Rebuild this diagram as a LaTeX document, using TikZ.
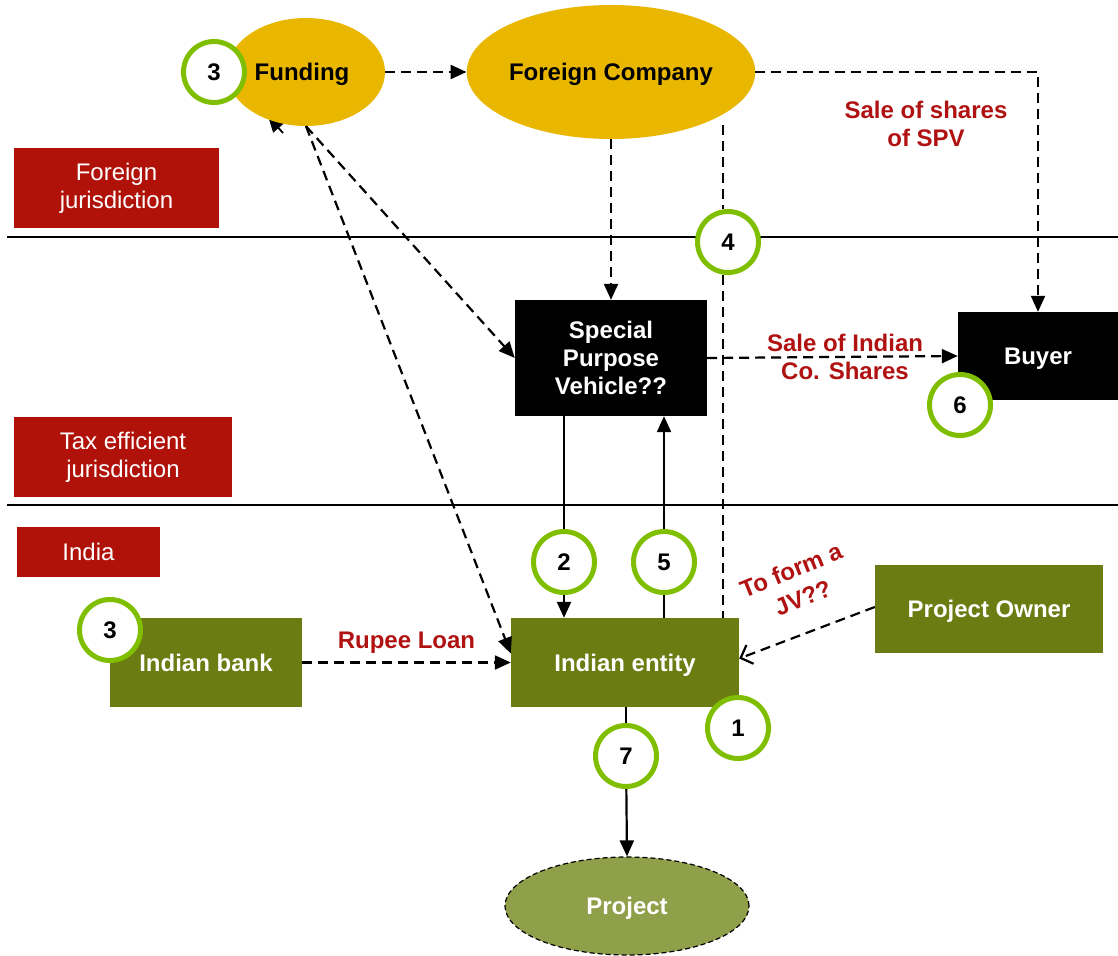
\documentclass[tikz,border=0pt]{standalone}
\usepackage{fontspec}
\setmainfont{Liberation Sans}
\usetikzlibrary{arrows.meta,shapes.geometric}
\definecolor{goldfill}{RGB}{234,183,0}
\definecolor{olivefill}{RGB}{107,124,18}
\definecolor{projfill}{RGB}{143,159,74}
\definecolor{ringgreen}{RGB}{127,190,0}
\definecolor{regred}{RGB}{176,18,10}
\definecolor{lblred}{RGB}{176,18,18}
\newcommand{\lblfont}{\fontsize{24}{28}\selectfont}

\begin{document}
\begin{tikzpicture}[x=1pt,y=-1pt,
  region/.style={rectangle,fill=regred,text=white,align=center,font=\lblfont,inner sep=0pt},
  goldell/.style={ellipse,fill=goldfill,font=\lblfont\bfseries,inner sep=0pt,text depth=0pt},
  blkbox/.style={rectangle,fill=black,text=white,align=center,font=\lblfont\bfseries,inner sep=0pt},
  olvbox/.style={rectangle,fill=olivefill,text=white,font=\lblfont\bfseries,inner sep=0pt,text depth=0pt},
  ring/.style={circle,draw=ringgreen,line width=5pt,fill=white,minimum size=61pt,inner sep=0pt,font=\lblfont\bfseries},
  lbl/.style={text=lblred,align=center,font=\lblfont\bfseries,inner sep=0pt},
  dashline/.style={line width=2.2pt,dash pattern=on 10pt off 6pt},
  dasharr/.style={dashline,-{Triangle[length=16pt,width=14pt]}},
  solarr/.style={line width=2.2pt,-{Triangle[length=16pt,width=14pt]}},
  openarr/.style={dashline,-{Straight Barb[length=10pt,width=20pt]}}]
\useasboundingbox (0,0) rectangle (1118,955);
\draw[line width=1.6pt] (7,237) -- (1118,237);
\draw[line width=1.6pt] (7,505) -- (1118,505);
\node[region,minimum width=205pt,minimum height=80pt] (foreign) at (116.5,188) {Foreign\\jurisdiction};
\node[region,minimum width=218pt,minimum height=80pt] (taxeff) at (123,457) {Tax efficient\\jurisdiction};
\node[region,minimum width=143pt,minimum height=50pt] (india) at (88.5,552) {India};
\coordinate (stray) at (283,133);
\draw[line width=1.8pt,-{Triangle[length=16pt,width=14pt]}] (stray) -- (268,116);
\node[goldell,minimum width=158pt,minimum height=108pt] (funding) at (306,72) {\hspace*{-8pt}Funding};
\node[goldell,minimum width=288pt,minimum height=134pt] (forco) at (611,72) {Foreign Company};
\node[blkbox,minimum width=192pt,minimum height=116pt] (spv) at (611,358) {Special\\Purpose\\Vehicle??};
\node[blkbox,text depth=0pt,minimum width=160pt,minimum height=88pt] (buyer) at (1038,356) {Buyer};
\node[olvbox,minimum width=192pt,minimum height=89pt] (bank) at (206,662.5) {Indian bank};
\node[olvbox,minimum width=228pt,minimum height=89pt] (entity) at (625,662.5) {Indian entity};
\node[olvbox,minimum width=228pt,minimum height=88pt] (owner) at (989,609) {Project Owner};
\node[ellipse,fill=projfill,draw=black,line width=1.2pt,dash pattern=on 5pt off 3pt,text=white,font=\lblfont\bfseries,text depth=0pt,minimum width=244pt,minimum height=98pt,inner sep=0pt] (project) at (627,906) {Project};
\node[lbl] (spvsale) at (926,124) {Sale of shares\\of SPV};
\node[lbl,rotate=22] (jvlbla) at (791,570) {To form a};
\node[lbl,rotate=22] (jvlblb) at (803,598) {JV??};
\node[ring] (threea) at (214,72) {3};
\node[ring] (threeb) at (110,630) {3};
\node[ring] (four) at (728,242) {4};
\node[ring] (six) at (960,405) {6};
\node[ring] (two) at (564,562) {2};
\node[ring] (five) at (664,562) {5};
\node[ring] (seven) at (626,756) {7};
\node[ring] (one) at (738,728) {1};
\coordinate (jvtop) at (723,125);
\draw[dasharr] (funding.east) -- (forco.west);
\draw[dasharr] (forco.east) -| (buyer.north);
\draw[dasharr] (forco.south) -- (spv.north);
\draw[dashline] (jvtop) -- (jvtop |- four.north);
\draw[dashline] (jvtop |- four.south) -- (jvtop |- entity.north);
\draw[dasharr] (spv.east) -- node[lbl,pos=0.55] {Sale of Indian\\Co. Shares} (buyer.west);
\draw[dasharr] (funding.south) -- (spv.west);
\draw[dasharr] (funding.south) -- ([yshift=9pt]entity.west);
\draw[dasharr] (bank.east) -- node[lbl,midway,above=8pt] {Rupee Loan} (entity.west);
\draw[openarr] ([yshift=2pt]owner.west) -- ([yshift=4pt]entity.east);
\draw[line width=2.2pt] (spv.south -| two) -- (two);
\draw[solarr] (two) -- (entity.north -| two);
\draw[solarr] (five) -- (spv.south -| five);
\draw[line width=2.2pt] (entity.north -| five) -- (five);
\draw[line width=2.2pt] (entity.south -| seven) -- (seven);
\draw[solarr] (seven) -- (project.north);
\end{tikzpicture}
\end{document}
